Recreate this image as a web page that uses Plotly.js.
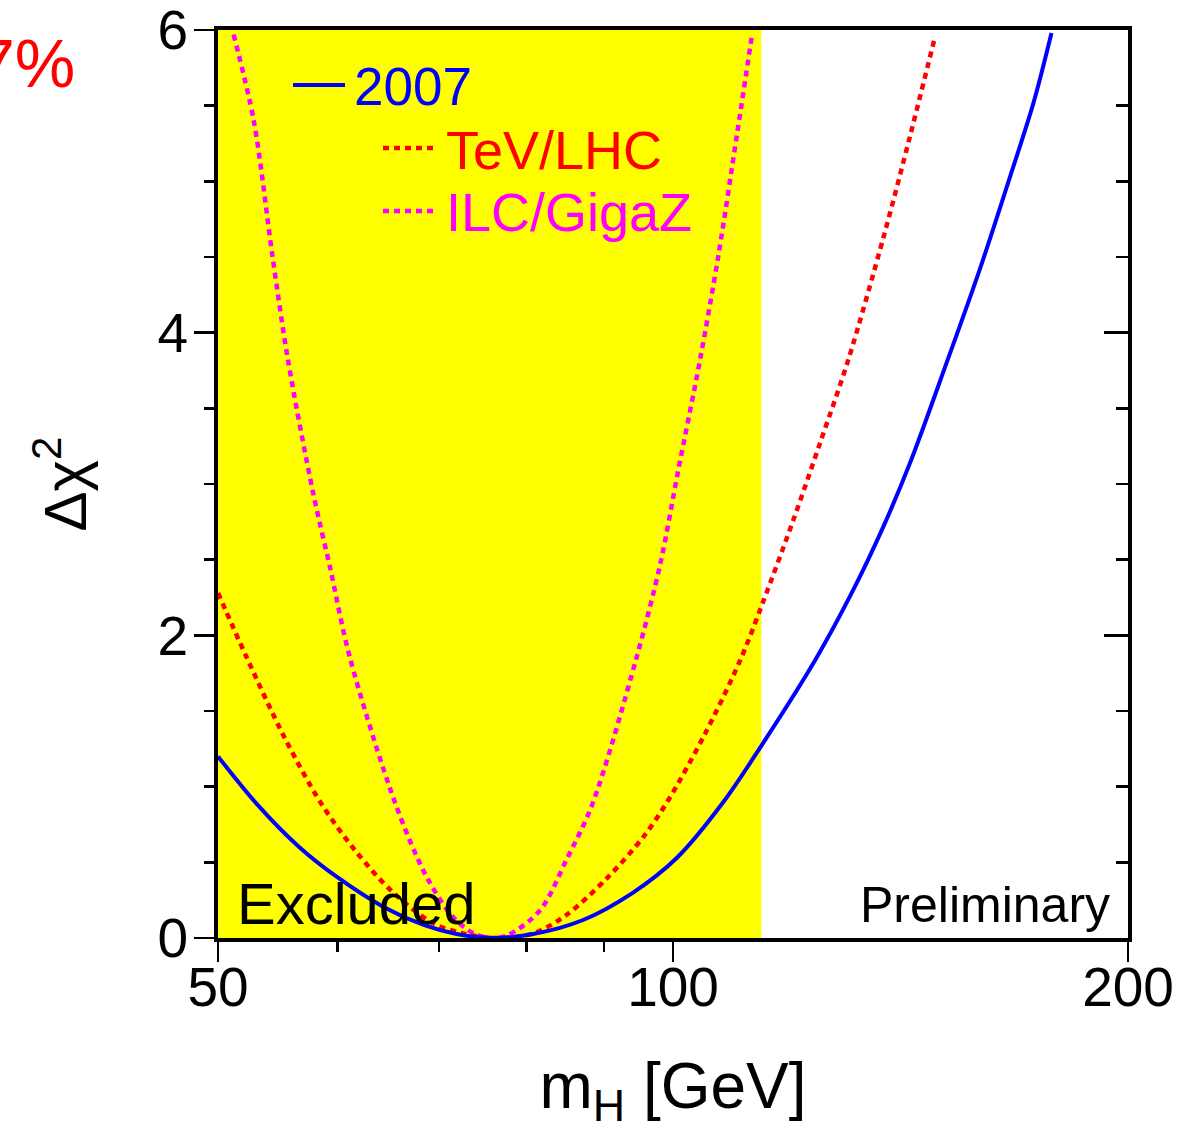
<!DOCTYPE html>
<html>
<head>
<meta charset="utf-8">
<script src="https://cdn.plot.ly/plotly-3.0.1.min.js"></script>
<style>
  html, body { margin: 0; padding: 0; background: #ffffff; }
  #chart { width: 1190px; height: 1130px; }
</style>
</head>
<body>
<div id="chart"></div>
<script>
// Δχ² versus Higgs mass: current fit and projected precision scenarios
const lepLimit = 114.4; // GeV, direct-search exclusion boundary

const mh2007 = [50, 53, 56.6, 59.9, 64.3, 68.4, 71.9, 76, 80.8, 87.2, 94.1, 100.6, 108.0, 114.4, 124.2, 131.6, 137.8, 143.5, 151.7, 159.6, 167.1, 173.2, 178.0];
const chi2007 = [1.20, 0.89, 0.60, 0.405, 0.207, 0.086, 0.026, 0, 0.026, 0.119, 0.30, 0.53, 0.90, 1.27, 1.837, 2.30, 2.72, 3.14, 3.80, 4.42, 5.03, 5.52, 5.98];

const mhLHC = [50, 52.2, 55.3, 58.5, 61.6, 65.2, 69.4, 72.6, 76, 80.8, 85.0, 90.4, 95.6, 99.3, 105, 110.8, 114.8, 120.1, 125.1, 130.6, 137.8, 143.5, 149.1];
const chiLHC = [2.28, 1.86, 1.33, 0.89, 0.58, 0.306, 0.097, 0.031, 0, 0.03, 0.152, 0.394, 0.669, 0.912, 1.35, 1.837, 2.23, 2.76, 3.27, 3.82, 4.63, 5.30, 5.96];

const mhILC = [51.2, 52.8, 54.3, 55.6, 57.8, 59.3, 61.1, 65.5, 68.7, 71.5, 73.8, 76, 77.8, 81.7, 85.0, 88.4, 94.5, 98.1, 100.8, 104.2, 107.2, 110.2, 112.8];
const chiILC = [5.97, 5.40, 4.52, 3.83, 2.94, 2.45, 1.86, 0.89, 0.405, 0.141, 0.031, 0, 0.02, 0.185, 0.515, 0.879, 1.837, 2.476, 3.09, 3.82, 4.52, 5.30, 5.97];

const xTickVals = [50, 100, 200];
const xTickText = ['50', '100', '200'];
const xMinorVals = [60, 70, 80, 90];
const yMajorStep = 2;
const yMinorStep = 0.5;

const seriesNames = ['2007', 'TeV/LHC', 'ILC/GigaZ'];

const FONT = '"Liberation Sans", Arial, Helvetica, sans-serif';
const BLUE = '#0000ff', RED = '#ff0000', MAGENTA = '#ff00ff';
const DOTS = '6px,5px';
const Y_RANGE = [0, 6];

const traces = [
  { x: mhILC, y: chiILC, name: seriesNames[2], type: 'scatter', mode: 'lines',
    line: { color: MAGENTA, width: 4.5, dash: DOTS, shape: 'spline', smoothing: 0.9 }, showlegend: false },
  { x: mhLHC, y: chiLHC, name: seriesNames[1], type: 'scatter', mode: 'lines',
    line: { color: RED, width: 4.5, dash: DOTS, shape: 'spline', smoothing: 0.9 }, showlegend: false },
  { x: mh2007, y: chi2007, name: seriesNames[0], type: 'scatter', mode: 'lines',
    line: { color: BLUE, width: 4, shape: 'spline', smoothing: 0.9 }, showlegend: false },
  // invisible companion trace so the right-hand axis is drawn
  { x: [50], y: [0], yaxis: 'y2', type: 'scatter', mode: 'lines', hoverinfo: 'skip',
    line: { width: 0 }, showlegend: false }
];

const px = (p) => (p - 218) / 910;    // horizontal paper position helper
const py = (p) => (938 - p) / 908;    // vertical paper position helper

const layout = {
  width: 1190, height: 1130,
  margin: { l: 218, r: 62, t: 30, b: 192 },
  paper_bgcolor: '#ffffff', plot_bgcolor: '#ffffff',
  font: { family: FONT, color: '#000000', size: 55 },
  showlegend: false,
  xaxis: {
    type: 'log', range: [Math.log10(50), Math.log10(200)],
    tickmode: 'array', tickvals: xTickVals, ticktext: xTickText,
    ticks: 'outside', ticklen: 20, tickwidth: 2.5, tickcolor: '#000',
    ticklabelstandoff: -22, ticklabeloverflow: 'allow',
    minor: { tickmode: 'array', tickvals: xMinorVals, ticks: 'outside', ticklen: 10, tickwidth: 2.5, tickcolor: '#000', showgrid: false },
    showline: true, linewidth: 4, linecolor: '#000', mirror: true,
    showgrid: false, zeroline: false,
    tickfont: { size: 55, family: FONT },
    title: { text: 'm<sub>H</sub> [GeV]', font: { size: 64, family: FONT }, standoff: 50 }
  },
  yaxis: {
    range: Y_RANGE, tickmode: 'linear', tick0: 0, dtick: yMajorStep,
    ticks: 'outside', ticklen: 20, tickwidth: 2.5, tickcolor: '#000',
    ticklabelstandoff: -5, ticklabeloverflow: 'allow',
    minor: { tickmode: 'linear', dtick: yMinorStep, tick0: 0, ticks: 'outside', ticklen: 10, tickwidth: 2.5, tickcolor: '#000', showgrid: false },
    showline: true, linewidth: 4, linecolor: '#000',
    showgrid: false, zeroline: false,
    tickfont: { size: 55, family: FONT },
    title: { text: 'Δχ<sup>2</sup>', font: { size: 60, family: FONT }, standoff: 52 }
  },
  yaxis2: {
    overlaying: 'y', side: 'right', range: Y_RANGE,
    tickmode: 'linear', tick0: 0, dtick: yMajorStep, showticklabels: false,
    ticks: 'inside', ticklen: 24, tickwidth: 2.5, tickcolor: '#000',
    minor: { tickmode: 'linear', dtick: yMinorStep, tick0: 0, ticks: 'inside', ticklen: 12, tickwidth: 2.5, tickcolor: '#000', showgrid: false },
    showline: true, linewidth: 4, linecolor: '#000',
    showgrid: false, zeroline: false
  },
  shapes: [
    { type: 'rect', xref: 'x', yref: 'paper', x0: 50, x1: lepLimit, y0: 0, y1: 1,
      fillcolor: '#ffff00', line: { width: 0 }, layer: 'below' },
    { type: 'line', xref: 'paper', yref: 'paper', x0: px(293), x1: px(345), y0: py(85), y1: py(85),
      line: { color: BLUE, width: 4 } },
    { type: 'line', xref: 'paper', yref: 'paper', x0: px(383), x1: px(436), y0: py(148), y1: py(148),
      line: { color: RED, width: 4.5, dash: DOTS } },
    { type: 'line', xref: 'paper', yref: 'paper', x0: px(383), x1: px(436), y0: py(211), y1: py(211),
      line: { color: MAGENTA, width: 4.5, dash: DOTS } }
  ],
  annotations: [
    { xref: 'paper', yref: 'paper', x: px(352), y: py(86), xanchor: 'left', yanchor: 'middle',
      text: seriesNames[0], showarrow: false, font: { size: 53, color: BLUE, family: FONT } },
    { xref: 'paper', yref: 'paper', x: px(444), y: py(150), xanchor: 'left', yanchor: 'middle',
      text: seriesNames[1], showarrow: false, font: { size: 54, color: RED, family: FONT } },
    { xref: 'paper', yref: 'paper', x: px(444), y: py(212), xanchor: 'left', yanchor: 'middle',
      text: seriesNames[2], showarrow: false, font: { size: 54, color: MAGENTA, family: FONT } },
    { xref: 'paper', yref: 'paper', x: px(235), y: py(903), xanchor: 'left', yanchor: 'middle',
      text: 'Excluded', showarrow: false, font: { size: 58, color: '#000', family: FONT } },
    { xref: 'paper', yref: 'paper', x: px(1112), y: py(905), xanchor: 'right', yanchor: 'middle',
      text: 'Preliminary', showarrow: false, font: { size: 50, color: '#000', family: FONT } },
    { xref: 'paper', yref: 'paper', x: px(77), y: py(63), xanchor: 'right', yanchor: 'middle',
      text: '7%', showarrow: false, font: { size: 68, color: RED, family: FONT } }
  ]
};

Plotly.newPlot('chart', traces, layout, { displayModeBar: false, staticPlot: true });
</script>
</body>
</html>
